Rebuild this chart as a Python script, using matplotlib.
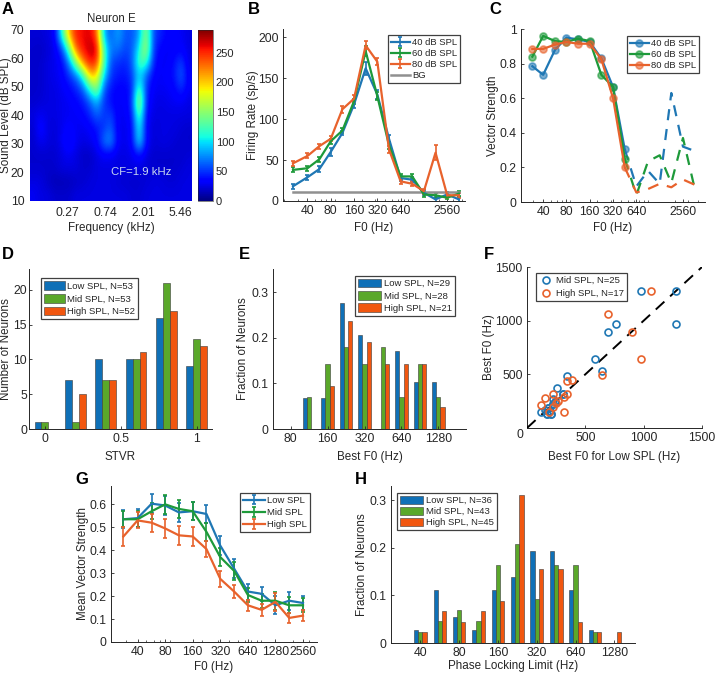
import numpy as np
import matplotlib
matplotlib.use("Agg")
import matplotlib.pyplot as plt
from matplotlib.ticker import NullFormatter, FixedLocator

W, H = 716, 675
BLUE, GREEN, ORANGE = "#1f77b4", "#1d9a3a", "#e8622c"
BAR_BLUE, BAR_GREEN, BAR_ORANGE = "#0f70b7", "#5aa82a", "#f1560f"
GREY = "#404040"

# panel A, tuning map, rows from top (70 dB) to bottom (10 dB)
tuning = np.array([
    [22, 22, 25, 30, 110, 205, 255, 258, 265, 235, 85, 60, 85, 60, 60, 80, 160, 55, 45, 35, 35, 30, 25],
    [20, 18, 22, 28, 50, 125, 235, 258, 272, 272, 120, 70, 70, 55, 60, 105, 170, 50, 35, 30, 30, 35, 25],
    [20, 20, 25, 28, 35, 70, 150, 225, 258, 250, 130, 55, 50, 45, 60, 130, 125, 45, 30, 30, 40, 55, 25],
    [20, 20, 25, 28, 32, 48, 65, 115, 205, 195, 100, 50, 42, 40, 52, 100, 62, 35, 30, 35, 40, 65, 30],
    [20, 20, 25, 25, 30, 35, 45, 60, 115, 160, 60, 40, 35, 35, 42, 135, 48, 30, 30, 30, 35, 50, 30],
    [20, 22, 25, 25, 28, 30, 35, 42, 60, 90, 50, 38, 30, 32, 48, 175, 42, 28, 25, 28, 30, 30, 25],
    [25, 30, 25, 25, 28, 30, 30, 35, 45, 65, 50, 55, 30, 30, 40, 140, 35, 25, 25, 25, 25, 25, 25],
    [20, 40, 25, 22, 28, 35, 30, 28, 32, 40, 50, 65, 28, 28, 34, 115, 32, 22, 25, 25, 25, 22, 20],
    [20, 30, 25, 22, 30, 45, 30, 25, 28, 35, 70, 80, 30, 28, 34, 110, 35, 22, 25, 25, 22, 20, 20],
    [20, 20, 20, 20, 25, 30, 25, 18, 18, 25, 32, 30, 25, 25, 28, 40, 25, 20, 20, 20, 20, 20, 22],
    [20, 20, 20, 20, 25, 25, 25, 20, 20, 25, 25, 25, 25, 25, 25, 25, 22, 20, 20, 20, 20, 22, 25],
    [25, 25, 18, 14, 14, 15, 18, 20, 24, 25, 25, 25, 22, 20, 20, 20, 22, 25, 25, 22, 22, 25, 25],
    [30, 25, 25, 20, 20, 20, 25, 25, 25, 25, 25, 25, 25, 25, 22, 22, 25, 25, 25, 25, 25, 25, 25],
])
freq_ticks = [0.27, 0.74, 2.01, 5.46]

# panel B, firing rate
f0_b = [26, 40, 57, 80, 113, 160, 226, 320, 453, 640, 905, 1280, 1810, 2560, 3620]
rate_40 = [18, 29, 39, 60, 83, 118, 162, 130, 76, 28, 26, 10, 2, 8, 2]
rate_60 = [38, 40, 51, 73, 86, 122, 183, 128, 68, 30, 30, 8, 7, 4, 9]
rate_80 = [46, 55, 67, 76, 112, 125, 190, 170, 63, 24, 21, 12, 59, 7, 7]
rate_err_40 = [3, 3, 4, 5, 3, 4, 8, 5, 4, 3, 3, 3, 3, 3, 3]
rate_err_60 = [3, 3, 3, 3, 3, 3, 6, 5, 4, 3, 3, 3, 3, 2, 3]
rate_err_80 = [3, 3, 3, 3, 4, 4, 5, 4, 4, 3, 3, 3, 9, 3, 3]
background = 11.5

# panel C, vector strength
f0_c = [29, 40, 57, 80, 113, 160, 226, 320, 453, 640, 905, 1280, 1810, 2560, 3620]
vs_40 = [.785, .735, .88, .95, .94, .925, .83, .665, .305, .09, .18, .105, .63, .32, .295]
vs_60 = [.84, .96, .93, .925, .945, .93, .735, .665, .25, .04, .235, .27, .11, .37, .08]
vs_80 = [.885, .885, .91, .925, .915, .915, .825, .6, .20, .055, .075, .105, .085, .13, .10]

# panel D, STVR histogram
stvr = [0, 0.2, 0.4, 0.6, 0.8, 1.0]
stvr_low = [1, 7, 10, 10, 16, 9]
stvr_mid = [1, 1, 7, 10, 21, 13]
stvr_high = [0, 5, 7, 11, 17, 12]

# panel E, best F0 histogram
best_bins = [113, 160, 226, 320, 453, 640, 905, 1280]
best_low = [.069, .069, .276, .207, 0, .172, .103, .103]
best_mid = [.071, .143, .179, .143, .179, .071, .143, .071]
best_high = [0, .095, .238, .19, .143, .143, .143, .048]

# panel F, best F0 scatter
mid_x = [973, 1280, 1280, 760, 697, 580, 640, 346, 260, 311, 120, 169, 206, 226, 226, 180, 150, 200, 240, 226, 206, 169, 311, 180, 240]
mid_y = [1280, 1280, 973, 973, 897, 640, 533, 487, 375, 314, 152, 130, 128, 270, 226, 190, 165, 160, 240, 226, 128, 130, 314, 190, 240]
high_x = [1060, 697, 897, 973, 640, 340, 383, 220, 154, 117, 317, 346, 317, 266, 246, 223, 191]
high_y = [1280, 1060, 897, 640, 490, 441, 447, 314, 282, 214, 152, 317, 286, 254, 230, 198, 152]

# panel G, mean vector strength
f0_g = [28, 40, 57, 80, 113, 160, 226, 320, 453, 640, 905, 1280, 1810, 2560]
mean_low = [.535, .54, .603, .595, .565, .57, .558, .42, .32, .22, .21, .16, .18, .17]
mean_mid = [.535, .535, .57, .60, .58, .57, .48, .37, .31, .205, .18, .18, .16, .16]
mean_high = [.46, .53, .52, .495, .465, .46, .405, .275, .22, .16, .14, .175, .105, .115]
err_low = [.04, .04, .04, .04, .04, .04, .04, .04, .04, .035, .03, .04, .04, .03]
err_mid = [.035, .035, .035, .04, .04, .04, .04, .04, .04, .03, .03, .04, .035, .03]
err_high = [.04, .035, .04, .04, .04, .04, .035, .035, .03, .025, .025, .04, .02, .025]

# panel H, phase locking limit histogram
limit_bins = [40, 57, 80, 113, 160, 226, 320, 453, 640, 905, 1280]
limit_low = [.0278, .111, .0556, .0278, .111, .139, .194, .194, .111, .0278, 0]
limit_mid = [.0233, .0465, .0698, .0465, .163, .209, .093, .163, .163, .0233, 0]
limit_high = [.0222, .0667, .0444, .0667, .0889, .311, .156, .156, .0444, .0222, .0222]

plt.rcParams["font.family"] = ["Liberation Sans", "DejaVu Sans"]
plt.rcParams["font.size"] = 8.8
plt.rcParams["axes.labelsize"] = 8.4
plt.rcParams["axes.linewidth"] = 0.7
plt.rcParams["axes.edgecolor"] = "#262626"
plt.rcParams["xtick.direction"] = "in"
plt.rcParams["ytick.direction"] = "in"
plt.rcParams["xtick.major.size"] = 2
plt.rcParams["ytick.major.size"] = 2
plt.rcParams["xtick.minor.size"] = 1.2
plt.rcParams["xtick.major.width"] = 0.6
plt.rcParams["ytick.major.width"] = 0.6
plt.rcParams["xtick.minor.width"] = 0.5
plt.rcParams["xtick.color"] = "#262626"
plt.rcParams["ytick.color"] = "#262626"
plt.rcParams["text.color"] = "#262626"
plt.rcParams["axes.labelcolor"] = "#262626"

fig = plt.figure(figsize=(W / 100, H / 100), dpi=100)


def add_panel(left, top, right, bottom):
    ax = fig.add_axes([left / W, 1 - bottom / H, (right - left) / W, (bottom - top) / H])
    ax.spines["top"].set_visible(False)
    ax.spines["right"].set_visible(False)
    ax.tick_params(pad=3)
    return ax


def letter(name, x, y):
    fig.text(x / W, 1 - y / H, name, fontsize=12, fontweight="bold", color="black", va="center", ha="left")


def log_x(ax, xlim, ticks):
    ax.set_xscale("log")
    ax.set_xlim(*xlim)
    ax.xaxis.set_major_locator(FixedLocator(ticks))
    ax.xaxis.set_major_formatter(plt.FixedFormatter([str(t) for t in ticks]))
    ax.xaxis.set_minor_formatter(NullFormatter())


def axis_labels(ax, xlabel, ylabel, xlabel_y, ylabel_x):
    # label centres given in figure pixels
    ax.set_xlabel(xlabel, va="center")
    ax.set_ylabel(ylabel, va="center")
    ax.xaxis.set_label_coords(0.5, 1 - xlabel_y / H, transform=ax.get_xaxis_transform().__class__(ax.transAxes, fig.transFigure))
    ax.yaxis.set_label_coords(ylabel_x / W, 0.5, transform=ax.get_yaxis_transform().__class__(fig.transFigure, ax.transAxes))


def add_legend(ax, box, handles=None, labels=None, spacing=0.3, **kw):
    # box is the legend's upper left corner in figure pixels
    if handles is None:
        handles, labels = ax.get_legend_handles_labels()
    leg = ax.legend(handles, labels, loc="upper left", bbox_to_anchor=(box[0] / W, 1 - box[1] / H),
                    bbox_transform=fig.transFigure, fontsize=6.8, fancybox=False, framealpha=1,
                    edgecolor=GREY, borderaxespad=0, labelspacing=spacing, borderpad=0.3,
                    handletextpad=0.25, **kw)
    leg.get_frame().set_linewidth(0.9)
    return leg


def grouped_bars(ax, pos, series, width, colors, labels):
    for k, (vals, col, lab) in enumerate(zip(series, colors, labels)):
        ax.bar(np.asarray(pos) + (k - 1) * width, vals, width, color=col, edgecolor="#3a3a3a",
               linewidth=0.4, label=lab)


# A
ax = add_panel(30, 30, 192, 201)
for s in ax.spines.values():
    s.set_visible(False)
im = ax.imshow(tuning, cmap="jet", vmin=0, vmax=288, aspect="auto", interpolation="bicubic",
               extent=[np.log(0.098), np.log(7.5), 10, 70])
ax.set_xticks(np.log(freq_ticks))
ax.set_xticklabels([str(f) for f in freq_ticks])
ax.set_yticks(range(10, 71, 10))
ax.tick_params(length=0, pad=4)
axis_labels(ax, "Frequency (kHz)", "Sound Level (dB SPL)", 228, 6)
ax.set_title("Neuron E", fontsize=8.3, pad=6)
ax.text(np.log(1.9), 20, "CF=1.9 kHz", color="#c8d8f0", fontsize=8.2, ha="center", va="center")
cax = fig.add_axes([198 / W, 1 - 201 / H, 15 / W, 171 / H])
cb = fig.colorbar(im, cax=cax, ticks=range(0, 251, 50))
cb.outline.set_linewidth(0.4)
cb.ax.tick_params(length=0, pad=2, labelsize=8)
letter("A", 2, 9)

# B
ax = add_panel(283, 29, 465, 201)
rate_handles = []
for y, e, c, lab in [(rate_40, rate_err_40, BLUE, "40 dB SPL"), (rate_60, rate_err_60, GREEN, "60 dB SPL"),
                     (rate_80, rate_err_80, ORANGE, "80 dB SPL")]:
    rate_handles.append(ax.errorbar(f0_b, y, yerr=e, color=c, lw=1.6, elinewidth=1.2, capsize=1.6, capthick=1.2))
bg_line, = ax.plot(f0_b, [background] * len(f0_b), color="#909090", lw=1.8)
log_x(ax, (19.3, 4350), [40, 80, 160, 320, 640, 2560])
ax.set_ylim(0, 210)
ax.set_yticks(range(0, 201, 50))
axis_labels(ax, "F0 (Hz)", "Firing Rate (sp/s)", 228, 253)
add_legend(ax, (388, 35), rate_handles + [bg_line], ["40 dB SPL", "60 dB SPL", "80 dB SPL", "BG"],
           spacing=0.22, handlelength=2.0)
letter("B", 248, 9)

# C
ax = add_panel(521, 29, 705, 202)
for y, c, lab in [(vs_40, BLUE, "40 dB SPL"), (vs_60, GREEN, "60 dB SPL"), (vs_80, ORANGE, "80 dB SPL")]:
    ax.plot(f0_c[:9], y[:9], "-o", color=c, lw=1.6, ms=5, mfc=matplotlib.colors.to_rgba(c, 0.6), mew=1.2, label=lab)
    ax.plot(f0_c[8:], y[8:], color=c, lw=1.6, dashes=(5, 4))
log_x(ax, (20.7, 4930), [40, 80, 160, 320, 640, 2560])
ax.set_ylim(0, 1)
ax.set_yticks([0, 0.2, 0.4, 0.6, 0.8, 1])
ax.set_yticklabels(["0", "0.2", "0.4", "0.6", "0.8", "1"])
axis_labels(ax, "F0 (Hz)", "Vector Strength", 228, 493)
add_legend(ax, (627, 36), spacing=0.22, handlelength=2.0)
letter("C", 489, 9)

# D
ax = add_panel(29, 269, 212, 429)
grouped_bars(ax, stvr, [stvr_low, stvr_mid, stvr_high], 0.0455, [BAR_BLUE, BAR_GREEN, BAR_ORANGE],
             ["Low SPL, N=53", "Mid SPL, N=53", "High SPL, N=52"])
ax.set_xlim(-0.105, 1.1)
ax.set_ylim(0, 23)
ax.set_xticks([0, 0.5, 1])
ax.set_xticklabels(["0", "0.5", "1"])
ax.set_yticks(range(0, 21, 5))
ax.tick_params(axis="y", pad=1.5)
axis_labels(ax, "STVR", "Number of Neurons", 457, 6)
add_legend(ax, (41, 278), spacing=0.35, handlelength=2.2, handleheight=1.05)
letter("D", 2, 254)

# E, bars placed in octaves
ax = add_panel(273, 269, 466, 429)
grouped_bars(ax, np.log2(best_bins), [best_low, best_mid, best_high], 0.115, [BAR_BLUE, BAR_GREEN, BAR_ORANGE],
             ["Low SPL, N=29", "Mid SPL, N=28", "High SPL, N=21"])
octave_ticks = [80, 160, 320, 640, 1280]
ax.set_xticks(np.log2(octave_ticks))
ax.set_xticklabels([str(t) for t in octave_ticks])
ax.set_xlim(np.log2(80) - 0.48, np.log2(1280) + 0.75)
ax.set_ylim(0, 0.351)
ax.set_yticks([0, 0.1, 0.2, 0.3])
ax.set_yticklabels(["0", "0.1", "0.2", "0.3"])
axis_labels(ax, "Best F0 (Hz)", "Fraction of Neurons", 457, 243)
add_legend(ax, (355, 276), spacing=0.3, handlelength=2.5, handleheight=1.0)
letter("E", 239, 254)

# F
ax = add_panel(527, 267, 702, 428)
ax.plot([0, 1500], [0, 1500], color="black", lw=1.4, dashes=(6, 4), zorder=3)
ax.plot(mid_x, mid_y, "o", ms=5, mfc="none", mec=BLUE, mew=1.2, label="Mid SPL, N=25", zorder=4)
ax.plot(high_x, high_y, "o", ms=5, mfc="none", mec=ORANGE, mew=1.2, label="High SPL, N=17", zorder=4)
ax.set_xlim(0, 1500)
ax.set_ylim(0, 1500)
ax.set_xticks([0, 500, 1000, 1500])
ax.set_yticks([0, 500, 1000, 1500])
ax.set_xticklabels(["", "500", "1000", "1500"])
ax.set_yticklabels(["", "500", "1000", "1500"])
fig.text(520 / W, 1 - 435 / H, "0", fontsize=8.8, ha="center", va="center")
axis_labels(ax, "Best F0 for Low SPL (Hz)", "Best F0 (Hz)", 457, 489)
add_legend(ax, (536, 273), spacing=0.45, handlelength=1.6)
letter("F", 484, 254)

# G
ax = add_panel(111, 486, 317, 642)
mean_handles = []
for y, e, c in [(mean_low, err_low, BLUE), (mean_mid, err_mid, GREEN), (mean_high, err_high, ORANGE)]:
    mean_handles.append(ax.errorbar(f0_g, y, yerr=e, color=c, lw=1.6, elinewidth=1.2, capsize=1.6, capthick=1.2))
log_x(ax, (20.5, 3640), [40, 80, 160, 320, 640, 1280, 2560])
ax.set_ylim(0, 0.68)
ax.set_yticks([0, 0.1, 0.2, 0.3, 0.4, 0.5, 0.6])
ax.set_yticklabels(["0", "0.1", "0.2", "0.3", "0.4", "0.5", "0.6"])
axis_labels(ax, "F0 (Hz)", "Mean Vector Strength", 667, 83)
add_legend(ax, (240, 493), mean_handles, ["Low SPL", "Mid SPL", "High SPL"], spacing=0.35, handlelength=2.3)
letter("G", 75, 480)

# H, bars placed in octaves
ax = add_panel(391, 486, 635, 643)
grouped_bars(ax, np.log2(limit_bins), [limit_low, limit_mid, limit_high], 0.11, [BAR_BLUE, BAR_GREEN, BAR_ORANGE],
             ["Low SPL, N=36", "Mid SPL, N=43", "High SPL, N=45"])
limit_ticks = [40, 80, 160, 320, 640, 1280]
ax.set_xticks(np.log2(limit_ticks))
ax.set_xticklabels([str(t) for t in limit_ticks])
ax.set_xlim(np.log2(40) - 0.753, np.log2(1280) + 0.53)
ax.set_ylim(0, 0.33)
ax.set_yticks([0, 0.1, 0.2, 0.3])
ax.set_yticklabels(["0", "0.1", "0.2", "0.3"])
axis_labels(ax, "Phase Locking Limit (Hz)", "Fraction of Neurons", 666, 362)
add_legend(ax, (397, 493), spacing=0.15, handlelength=2.5, handleheight=1.0)
letter("H", 355, 480)

fig.savefig("out.png", dpi=100)
